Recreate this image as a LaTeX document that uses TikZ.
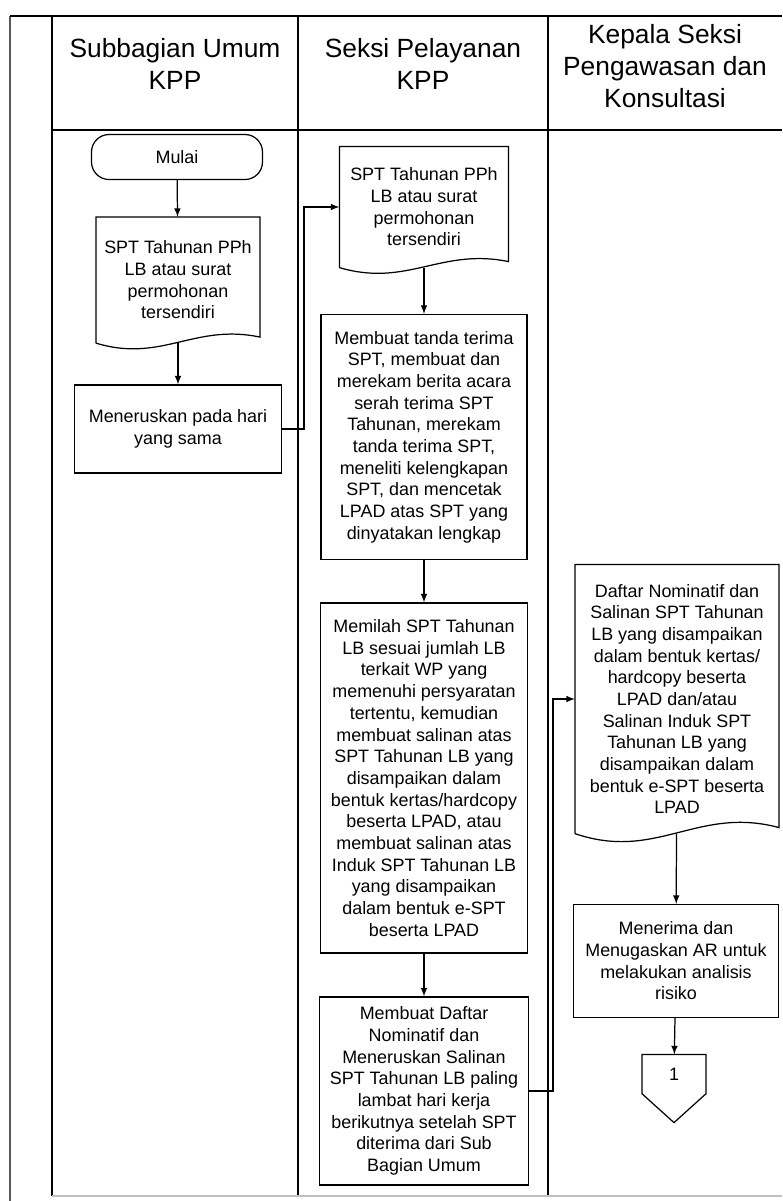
\documentclass[tikz,border=0pt]{standalone}
\usepackage{fontspec}
\setmainfont{Liberation Sans}
\usetikzlibrary{shapes, calc}

\begin{document}
\begin{tikzpicture}[x=0.02cm, y=-0.02cm, line width=0.7pt, >=latex,
		proses/.style={draw, rectangle, align=center, font=\fontsize{10.2pt}{12.35pt}\selectfont},
		dokumen/.style={rectangle, align=center, font=\fontsize{10.2pt}{12.35pt}\selectfont},
		judul/.style={align=center, font=\fontsize{15pt}{18pt}\selectfont}]
				\useasboundingbox (0,0) rectangle (782,1201);
				\draw[gray!70!black] (10,16) -- (10,1201);
				\draw (10,16) -- (782,16);
				\draw (52,16) -- (52,1196);
				\draw (52,130) -- (782,130);
				\draw (298,16) -- (298,1196);
				\draw (548,16) -- (548,1196);
				\draw[gray!50] (52,1196) -- (782,1196);
				\node[judul] (lajura) at (175,64) {Subbagian Umum\\KPP};
				\node[judul] (lajurb) at (423,64) {Seksi Pelayanan\\KPP};
				\node[judul] (lajurc) at (665,66) {Kepala Seksi\\Pengawasan dan\\Konsultasi};
				\node[proses, rounded corners=0.35cm, minimum width=3.42cm, minimum height=0.9cm] (mulai) at (177,157) {Mulai};
				\node[dokumen, minimum width=3.26cm, minimum height=2.5cm] (spta) at (178,280) {SPT Tahunan PPh\\LB atau surat\\permohonan\\tersendiri};
				\node[proses, minimum width=4.14cm, minimum height=1.76cm] (meneruskan) at (178,429) {Meneruskan pada hari\\yang sama};
				\node[dokumen, minimum width=3.36cm, minimum height=2.4cm] (sptb) at (424,207) {SPT Tahunan PPh\\LB atau surat\\permohonan\\tersendiri};
				\node[proses, minimum width=4.12cm, minimum height=4.9cm] (tandaterima) at (424,437) {Membuat tanda terima\\SPT, membuat dan\\merekam berita acara\\serah terima SPT\\Tahunan, merekam\\tanda terima SPT,\\meneliti kelengkapan\\SPT, dan mencetak\\LPAD atas SPT yang\\dinyatakan lengkap};
				\node[proses, minimum width=4.14cm, minimum height=7cm] (memilah) at (424,778) {Memilah SPT Tahunan\\LB sesuai jumlah LB\\terkait WP yang\\memenuhi persyaratan\\tertentu, kemudian\\membuat salinan atas\\SPT Tahunan LB yang\\disampaikan dalam\\bentuk kertas/hardcopy\\beserta LPAD, atau\\membuat salinan atas\\Induk SPT Tahunan LB\\yang disampaikan\\dalam bentuk e-SPT\\beserta LPAD};
				\node[proses, minimum width=4.18cm, minimum height=3.76cm] (daftar) at (424,1091) {Membuat Daftar\\Nominatif dan\\Meneruskan Salinan\\SPT Tahunan LB paling\\lambat hari kerja\\berikutnya setelah SPT\\diterima dari Sub\\Bagian Umum};
				\node[dokumen, minimum width=4.06cm, minimum height=5.36cm] (dokc) at (677,699) {Daftar Nominatif dan\\Salinan SPT Tahunan\\LB yang disampaikan\\dalam bentuk kertas/\\hardcopy beserta\\LPAD dan/atau\\Salinan Induk SPT\\Tahunan LB yang\\disampaikan dalam\\bentuk e-SPT beserta\\LPAD};
				\node[proses, minimum width=4.1cm, minimum height=2.26cm] (menerima) at (676,961) {Menerima dan\\Menugaskan AR untuk\\melakukan analisis\\risiko};
				\node[dokumen, minimum width=1.26cm, minimum height=0.76cm] (hal) at (674,1074) {1};
				\foreach \d/\h in {spta/20, sptb/20, dokc/28}
					\draw (\d.south west) -- (\d.north west) -- (\d.north east) -- ($(\d.south east)+(0,-6)$) .. controls ($(\d.south west)!0.6!(\d.south east)+(0,-\h)$) and ($(\d.south west)!0.4!(\d.south east)+(0,\h)$) .. (\d.south west);
				\draw (hal.north west) -- (hal.north east) -- (hal.south east) -- ($(hal.south)+(0,29)$) -- (hal.south west) -- cycle;
				\draw[->] (mulai) -- (spta);
				\draw[->] (spta) -- (meneruskan);
				\draw[->] (meneruskan.east) -- ++(22,0) |- (sptb.west);
				\draw[->] (sptb) -- (tandaterima);
				\draw[->] (tandaterima) -- (memilah);
				\draw[->] (memilah) -- (daftar);
				\draw[->] (daftar.east) -- ++(24,0) |- (dokc.west);
				\draw[->] (dokc) -- (menerima);
				\draw[->] (menerima) -- (hal);
			\end{tikzpicture}
\end{document}
